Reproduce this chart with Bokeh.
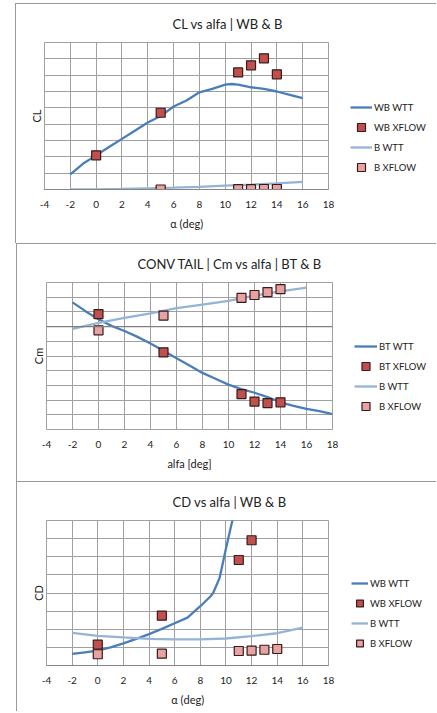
from bokeh.plotting import figure
from bokeh.models import Range1d, FixedTicker, Legend, LegendItem, Span, Title
from bokeh.layouts import column, row
from bokeh.embed import file_html
from bokeh.resources import INLINE

# ---------------- data ----------------
alpha_ticks = [-4, -2, 0, 2, 4, 6, 8, 10, 12, 14, 16, 18]

# Chart 1: CL vs alfa
cl_wb_wtt_a = [-2, -1, 0, 1, 2, 3, 4, 5, 6, 7, 8, 9, 10, 10.5, 11, 12, 13, 14, 15, 16]
cl_wb_wtt = [0.093, 0.159, 0.209, 0.26, 0.31, 0.36, 0.41, 0.45, 0.508, 0.545, 0.595,
             0.616, 0.642, 0.646, 0.642, 0.626, 0.616, 0.60, 0.58, 0.56]
cl_wb_xflow_a = [0, 5, 11, 12, 13, 14]
cl_wb_xflow = [0.209, 0.47, 0.717, 0.76, 0.803, 0.705]
cl_b_wtt_a = [-2, 0, 2, 4, 6, 8, 10, 12, 14, 16]
cl_b_wtt = [0.0, 0.0, 0.003, 0.007, 0.011, 0.016, 0.024, 0.030, 0.037, 0.047]
cl_b_xflow_a = [5, 11, 12, 13, 14]
cl_b_xflow = [0.0, 0.002, 0.002, 0.003, 0.003]

# Chart 2: Cm vs alfa
cm_bt_wtt_a = [-2, -1, 0, 1, 2, 3, 4, 5, 6, 7, 8, 9, 10, 11, 12, 13, 14, 15, 16, 17, 18]
cm_bt_wtt = [0.033, 0.021, 0.010, 0.001, -0.006, -0.014, -0.023, -0.033, -0.043, -0.053,
             -0.063, -0.071, -0.079, -0.085, -0.090, -0.096, -0.103, -0.108, -0.112,
             -0.115, -0.119]
cm_bt_xflow_a = [0, 5, 11, 12, 13, 14]
cm_bt_xflow = [0.017, -0.035, -0.092, -0.102, -0.104, -0.103]
cm_b_wtt_a = [-2, 0, 2, 4, 6, 8, 10, 12, 14, 16]
cm_b_wtt = [-0.003, 0.005, 0.012, 0.018, 0.025, 0.030, 0.035, 0.042, 0.048, 0.053]
cm_b_xflow_a = [0, 5, 11, 12, 13, 14]
cm_b_xflow = [-0.005, 0.015, 0.039, 0.043, 0.047, 0.051]

# Chart 3: CD vs alfa
cd_wb_wtt_a = [-2, -1, 0, 1, 2, 3, 4, 5, 6, 7, 8, 8.8, 9, 9.5, 10, 10.5, 10.6]
cd_wb_wtt = [0.0064, 0.0073, 0.0082, 0.0100, 0.0122, 0.0147, 0.0173, 0.0202, 0.0233,
             0.0264, 0.0327, 0.0382, 0.0400, 0.0482, 0.0645, 0.0800, 0.0900]
cd_wb_xflow_a = [0, 5, 11, 12]
cd_wb_xflow = [0.0115, 0.0275, 0.0582, 0.0691]
cd_b_wtt_a = [-2, 0, 2, 4, 6, 8, 10, 12, 14, 16]
cd_b_wtt = [0.0180, 0.0164, 0.0155, 0.0147, 0.0144, 0.0144, 0.0149, 0.0162, 0.0178, 0.0209]
cd_b_xflow_a = [0, 5, 11, 12, 13, 14]
cd_b_xflow = [0.0062, 0.0065, 0.0080, 0.0082, 0.0087, 0.0091]

FONT = "Lato"
DARK_BLUE = "#4a7ebb"
LIGHT_BLUE = "#95b3d7"
RED = "#c0504d"
PINK = "#e6a3a1"
EDGE = "#3a1a1a"
GRID = "#a0a0a0"
BORDER = "#9a9a9a"
TXT = "#222222"
CW = 340   # chart figure width
LW = 96    # legend figure width


def chart_styles(xoff, yoff):
    g = f"linear-gradient({BORDER},{BORDER})"
    return {"background": f"{g} {xoff}px {yoff}px / 1px 100% no-repeat, "
                          f"{g} {xoff}px {yoff}px / 100% 1px no-repeat"}


def legend_styles(yoff):
    g = f"linear-gradient({BORDER},{BORDER})"
    return {"background": f"{g} 0px {yoff}px / 100% 1px no-repeat"}


def style_line(p, xs, ys, color):
    return p.line(xs, ys, line_color=color, line_width=2.3)


def style_sq(p, xs, ys, color):
    return p.scatter(xs, ys, marker="square", size=9, fill_color=color,
                     line_color=EDGE, line_width=1.2)


def make_panel(title, title_offset, xlabel, ylabel, ymin, ymax, ystep, series,
               height, left, top, bottom, frame_w, leg_xy, glyph_w,
               zero_line, border_x, border_y):
    nticks = int(round((ymax - ymin) / ystep))
    yt = [round(ymin + i * ystep, 6) for i in range(nticks + 1)]
    p = figure(width=CW, height=height, output_backend="svg", toolbar_location=None,
               x_range=Range1d(-4, 18), y_range=Range1d(ymin, ymax),
               y_axis_location=None,
               min_border_left=left, min_border_right=CW - left - frame_w,
               min_border_top=top, min_border_bottom=bottom,
               styles=chart_styles(border_x, border_y))
    p.border_fill_color = None
    p.background_fill_color = "white"
    p.title.text = title
    p.title.align = "left"
    p.title.offset = title_offset
    p.title.standoff = 21
    p.title.text_font = FONT
    p.title.text_font_size = "13px"
    p.title.text_font_style = "normal"
    p.title.text_color = TXT

    p.add_layout(Title(text=ylabel, align="center", standoff=3, text_font=FONT,
                       text_font_size="11px", text_font_style="normal",
                       text_color=TXT), "left")

    p.xaxis.ticker = FixedTicker(ticks=alpha_ticks)
    p.xaxis.major_label_overrides = {-4: "-4", -2: "-2"}
    p.xgrid.ticker = FixedTicker(ticks=alpha_ticks)
    p.ygrid.ticker = FixedTicker(ticks=yt)
    p.grid.grid_line_color = GRID
    p.grid.grid_line_width = 1
    p.outline_line_color = GRID

    p.xaxis.axis_label = xlabel
    p.xaxis.axis_label_text_font = FONT
    p.xaxis.axis_label_text_font_size = "11px"
    p.xaxis.axis_label_text_font_style = "normal"
    p.xaxis.axis_label_text_color = TXT
    p.xaxis.axis_label_standoff = 6
    p.xaxis.major_label_text_font = FONT
    p.xaxis.major_label_text_font_size = "10px"
    p.xaxis.major_label_text_color = TXT
    p.xaxis.major_label_standoff = 11
    p.xaxis.major_tick_line_color = None
    p.xaxis.minor_tick_line_color = None
    p.xaxis.major_tick_out = 0
    p.xaxis.major_tick_in = 0
    p.xaxis.axis_line_color = "#868686" if not zero_line else None

    if zero_line:
        p.add_layout(Span(location=0, dimension="width", line_color="#7f7f7f", line_width=1.3))

    # legend lives in its own small figure to the right of the chart; it plots the
    # same series, but its ranges lie far away so only the legend entries show
    lp = figure(width=LW, height=height, output_backend="svg", toolbar_location=None,
                title=None, x_axis_location=None, y_axis_location=None,
                x_range=Range1d(1000, 1001), y_range=Range1d(1000, 1001),
                min_border=0, styles=legend_styles(border_y))
    lp.grid.visible = False
    lp.outline_line_color = None
    lp.border_fill_color = None
    lp.background_fill_color = None

    items = []
    for name, kind, xs, ys, color in series:
        if kind == "line":
            style_line(p, xs, ys, color)
            r = style_line(lp, xs, ys, color)
        else:
            style_sq(p, xs, ys, color)
            r = style_sq(lp, xs, ys, color)
        items.append(LegendItem(label=name, renderers=[r]))

    leg = Legend(items=items, location=leg_xy, orientation="vertical",
                 border_line_color=None, background_fill_alpha=0,
                 padding=0, margin=0, spacing=0, glyph_width=glyph_w,
                 glyph_height=20, label_height=20, label_standoff=2,
                 label_text_font=FONT, label_text_font_size="9.5px",
                 label_text_color=TXT)
    lp.add_layout(leg, "center")
    return row(p, lp, spacing=0)


r1 = make_panel(
    "CL vs alfa | WB & B", 128, "α (deg)", "CL", 0.0, 0.9, 0.1,
    [("WB WTT", "line", cl_wb_wtt_a, cl_wb_wtt, DARK_BLUE),
     ("WB XFLOW", "sq", cl_wb_xflow_a, cl_wb_xflow, RED),
     ("B WTT", "line", cl_b_wtt_a, cl_b_wtt, LIGHT_BLUE),
     ("B XFLOW", "sq", cl_b_xflow_a, cl_b_xflow, PINK)],
    height=243, left=44, top=42, bottom=54, frame_w=284,
    leg_xy=(10, 12), glyph_w=22, zero_line=False, border_x=15, border_y=3)

r2 = make_panel(
    "CONV TAIL | Cm vs alfa | BT & B", 91, "alfa [deg]", "Cm", -0.14, 0.06, 0.02,
    [("BT WTT", "line", cm_bt_wtt_a, cm_bt_wtt, DARK_BLUE),
     ("BT XFLOW", "sq", cm_bt_xflow_a, cm_bt_xflow, RED),
     ("B WTT", "line", cm_b_wtt_a, cm_b_wtt, LIGHT_BLUE),
     ("B XFLOW", "sq", cm_b_xflow_a, cm_b_xflow, PINK)],
    height=238, left=46, top=39, bottom=52, frame_w=286,
    leg_xy=(14, 13), glyph_w=23, zero_line=True, border_x=16, border_y=0)

r3 = make_panel(
    "CD vs alfa | WB & B", 126, "α (deg)", "CD", 0.0, 0.08, 0.01,
    [("WB WTT", "line", cd_wb_wtt_a, cd_wb_wtt, DARK_BLUE),
     ("WB XFLOW", "sq", cd_wb_xflow_a, cd_wb_xflow, RED),
     ("B WTT", "line", cd_b_wtt_a, cd_b_wtt, LIGHT_BLUE),
     ("B XFLOW", "sq", cd_b_xflow_a, cd_b_xflow, PINK)],
    height=230, left=46, top=37, bottom=46, frame_w=282,
    leg_xy=(11, 12), glyph_w=17, zero_line=False, border_x=16, border_y=0)

layout = column(r1, r2, r3, spacing=0)
open("out.html", "w").write(file_html(layout, INLINE))
